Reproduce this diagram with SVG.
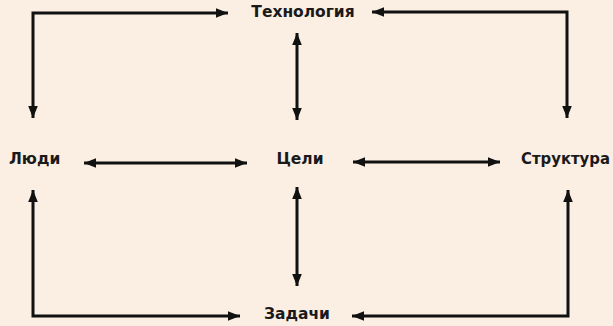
<svg xmlns="http://www.w3.org/2000/svg" width="613" height="326" viewBox="0 0 613 326">
<defs>
<marker id="ah" viewBox="0 0 10 8" refX="10" refY="4" markerWidth="5" markerHeight="3.2" markerUnits="strokeWidth" orient="auto-start-reverse">
<path d="M0,0 L10,4 L0,8 Z" fill="#111"/>
</marker>
<style>
.lbl{font-family:"DejaVu Sans","Liberation Sans",sans-serif;font-weight:bold;font-size:15.5px;fill:#1a1a1a}
.c{fill:none;stroke:#111;stroke-width:3;stroke-linejoin:miter}
</style>
</defs>
<rect width="613" height="326" fill="#fbeee3"/>
<g id="n-tech"><text class="lbl" x="303" y="17" text-anchor="middle">Технология</text></g>
<g id="n-people"><text class="lbl" x="9" y="164">Люди</text></g>
<g id="n-goals"><text class="lbl" x="300" y="164" text-anchor="middle">Цели</text></g>
<g id="n-struct"><text class="lbl" x="521" y="164" textLength="89" lengthAdjust="spacingAndGlyphs">Структура</text></g>
<g id="n-tasks"><text class="lbl" x="297" y="319" text-anchor="middle">Задачи</text></g>
<g id="connectors">
<path class="c" d="M33,118 L33,13 L228,13" marker-start="url(#ah)" marker-end="url(#ah)"/>
<path class="c" d="M372,12 L567,12 L567,118" marker-start="url(#ah)" marker-end="url(#ah)"/>
<path class="c" d="M297,33 L297,120" marker-start="url(#ah)" marker-end="url(#ah)"/>
<path class="c" d="M84,163 L247,163" marker-start="url(#ah)" marker-end="url(#ah)"/>
<path class="c" d="M353,162 L500,162" marker-start="url(#ah)" marker-end="url(#ah)"/>
<path class="c" d="M297,187 L297,286" marker-start="url(#ah)" marker-end="url(#ah)"/>
<path class="c" d="M33,190 L33,316 L240,316" marker-start="url(#ah)" marker-end="url(#ah)"/>
<path class="c" d="M352,316 L568,316 L568,190" marker-start="url(#ah)" marker-end="url(#ah)"/>
</g>
</svg>
